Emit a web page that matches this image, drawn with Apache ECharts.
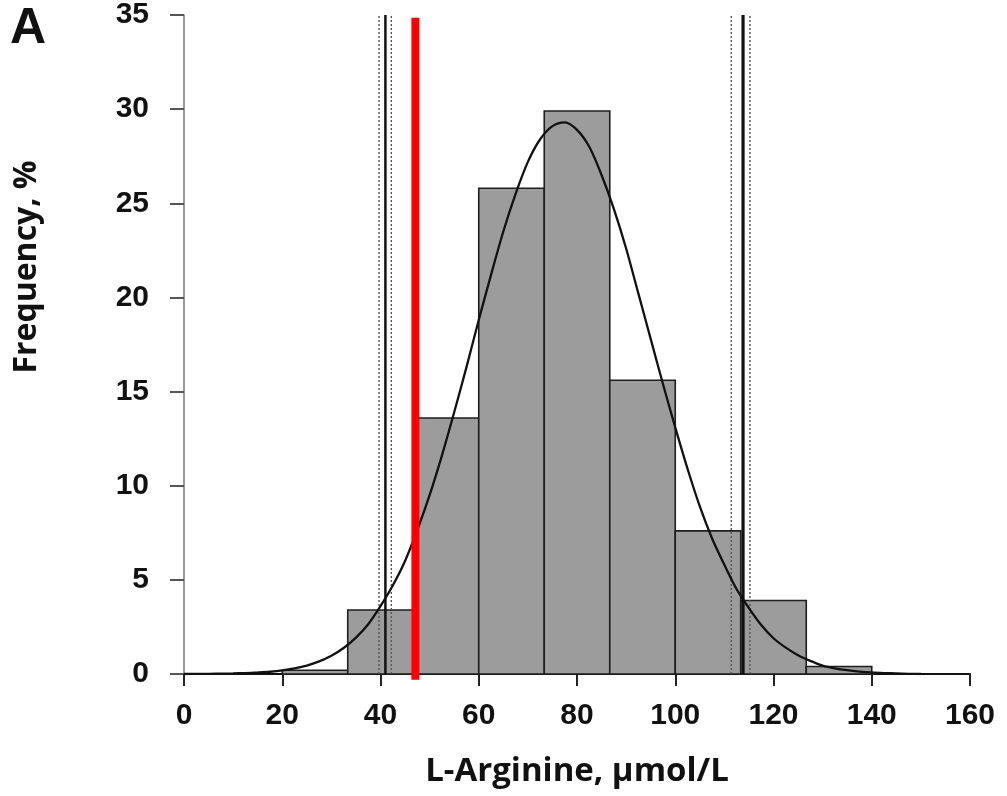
<!DOCTYPE html>
<html>
<head>
<meta charset="utf-8">
<title>L-Arginine distribution</title>
<script src="https://cdn.jsdelivr.net/npm/echarts@6/dist/echarts.min.js"></script>
<style>
  html, body { margin: 0; padding: 0; background: #fff; }
  #chart { width: 1007px; height: 796px; }
</style>
</head>
<body>
<div id="chart"></div>
<script>
// Histogram bins (µmol/L) and relative frequency (%)
const binStart = [20, 33.33, 46.67, 60, 73.33, 86.67, 100, 113.33, 126.67];
const binEnd   = [33.33, 46.67, 60, 73.33, 86.67, 100, 113.33, 126.67, 140];
const freq     = [0.2, 3.4, 13.6, 25.8, 29.9, 15.6, 7.6, 3.9, 0.4];

// Fitted normal curve, sampled every 2.5 µmol/L
const curveX = [0, 2.5, 5, 7.5, 10, 12.5, 15, 17.5, 20, 22.5, 25, 27.5, 30, 32.5, 35, 37.5,
                40, 42.5, 45, 47.5, 50, 52.5, 55, 57.5, 60, 62.5, 65, 67.5, 70, 72.5, 75, 77.5,
                80, 82.5, 85, 87.5, 90, 92.5, 95, 97.5, 100, 102.5, 105, 107.5, 110, 112.5, 115,
                117.5, 120, 122.5, 125, 127.5, 130, 132.5, 135, 137.5, 140, 142.5, 145, 147.5, 150];
const curveY = [0.0, 0.01, 0.01, 0.02, 0.03, 0.05, 0.08, 0.12, 0.19, 0.3, 0.45, 0.67, 0.97,
                1.38, 1.93, 2.64, 3.6, 4.7, 6.0, 7.65, 9.5, 11.6, 13.9, 16.3, 18.8, 21.2, 23.5,
                25.5, 27.2, 28.4, 29.1, 29.3, 28.9, 28.0, 26.5, 24.7, 22.6, 20.2, 17.8, 15.4,
                13.1, 10.9, 8.9, 7.2, 5.8, 4.5, 3.5, 2.6, 1.9, 1.4, 1.0, 0.7, 0.45, 0.3, 0.2,
                0.13, 0.08, 0.05, 0.03, 0.01, 0.0];

// Reference limits: solid = estimate, dotted = confidence bounds
const lowerLimit = 41.0;
const lowerCI = [39.7, 42.2];
const upperLimit = 113.8;
const upperCI = [111.4, 115.2];
const cutoff = 47.1;

// Axis ticks
const xTicks = { min: 0, max: 160, step: 20 };
const yTicks = { min: 0, max: 35, step: 5 };

const tickFont = '"Liberation Sans", Arial, sans-serif';
const titleFont = '"Open Sans", "Noto Sans", sans-serif';

function vline(x, color, width, type, y0, y1, z) {
  return {
    type: 'line',
    data: [[x, y0], [x, y1]],
    symbol: 'none',
    clip: false,
    silent: true,
    z: z,
    lineStyle: { color: color, width: width, type: type }
  };
}

const chart = echarts.init(document.getElementById('chart'), null, { renderer: 'canvas' });

const series = [
  {
    type: 'custom',
    z: 2,
    renderItem: function (params, api) {
      const tl = api.coord([api.value(0), api.value(2)]);
      const br = api.coord([api.value(1), 0]);
      return {
        type: 'rect',
        shape: { x: tl[0], y: tl[1], width: br[0] - tl[0], height: br[1] - tl[1] },
        style: { fill: '#9c9c9c', stroke: '#1e1e1e', lineWidth: 1.6 }
      };
    },
    encode: { x: [0, 1], y: 2 },
    data: binStart.map((s, i) => [s, binEnd[i], freq[i]])
  },
  vline(lowerCI[0], '#555', 1.4, [2, 2], 0, yTicks.max, 3),
  vline(lowerCI[1], '#555', 1.4, [2, 2], 0, yTicks.max, 3),
  vline(upperCI[0], '#555', 1.4, [2, 2], 0, yTicks.max, 3),
  vline(upperCI[1], '#555', 1.4, [2, 2], 0, yTicks.max, 3),
  vline(lowerLimit, '#111', 2.5, 'solid', 0, yTicks.max, 4),
  vline(upperLimit, '#111', 3.2, 'solid', 0, yTicks.max, 4),
  {
    type: 'line',
    data: curveX.map((x, i) => [x, curveY[i]]),
    smooth: 0.3,
    symbol: 'none',
    silent: true,
    z: 5,
    lineStyle: { color: '#111', width: 2.3 }
  },
  vline(cutoff, '#ff0000', 8, 'solid', -0.3, 34.85, 6)
];

chart.setOption({
  animation: false,
  backgroundColor: '#ffffff',
  grid: { left: 184, right: 37, top: 15, bottom: 122, containLabel: false },
  xAxis: {
    type: 'value',
    min: xTicks.min,
    max: xTicks.max,
    interval: xTicks.step,
    splitLine: { show: false },
    axisLine: { show: true, onZero: false, lineStyle: { color: '#111', width: 2 } },
    axisTick: { show: true, length: 12, lineStyle: { color: '#222', width: 2 } },
    axisLabel: {
      margin: 27,
      fontFamily: tickFont, fontWeight: 'bold', fontSize: 30, color: '#111'
    }
  },
  yAxis: {
    type: 'value',
    min: yTicks.min,
    max: yTicks.max,
    interval: yTicks.step,
    splitLine: { show: false },
    axisLine: { show: true, onZero: false, lineStyle: { color: '#777', width: 1.5 } },
    axisTick: { show: true, length: 14, lineStyle: { color: '#555', width: 2 } },
    axisLabel: {
      margin: 35,
      fontFamily: tickFont, fontWeight: 'bold', fontSize: 30, color: '#111'
    }
  },
  graphic: [
    {
      type: 'text', left: 10, top: 4,
      style: { text: 'A', font: 'bold 50px ' + tickFont, fill: '#111' }
    },
    {
      type: 'text', x: 577, y: 772,
      style: {
        text: 'L-Arginine, µmol/L', font: 'bold 33px ' + titleFont, fill: '#111',
        align: 'center', verticalAlign: 'middle'
      }
    },
    {
      type: 'text', x: 27, y: 267, rotation: Math.PI / 2,
      style: {
        text: 'Frequency, %', font: 'bold 32px ' + titleFont, fill: '#111',
        align: 'center', verticalAlign: 'middle'
      }
    }
  ],
  series: series
});
</script>
</body>
</html>
